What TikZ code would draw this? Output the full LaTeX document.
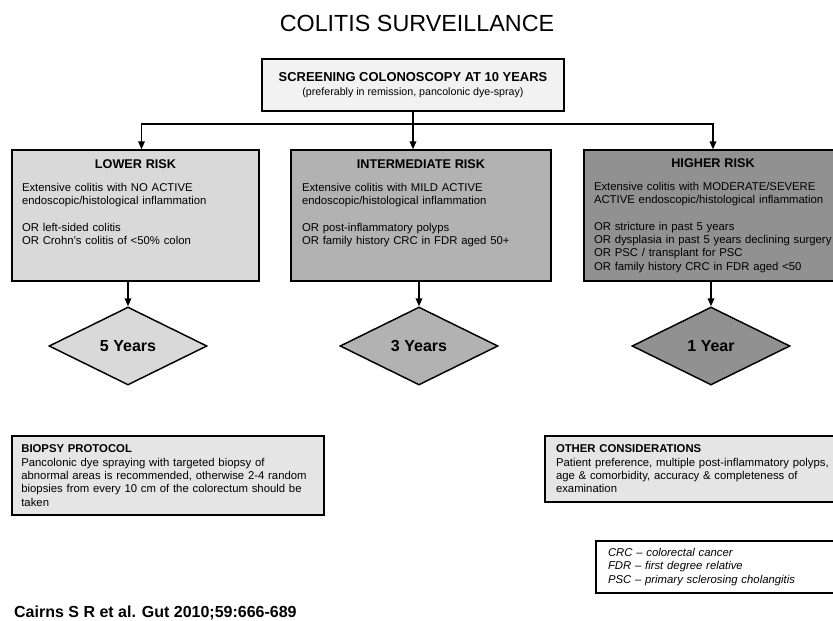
\documentclass[tikz,border=0pt]{standalone}
\usepackage{fontspec}
\setmainfont{Liberation Sans}
\usepackage{tikz}
\usetikzlibrary{arrows.meta,shapes.geometric}

\definecolor{topgray}{gray}{0.95}
\definecolor{lowgray}{gray}{0.85}
\definecolor{midgray}{gray}{0.70}
\definecolor{highgray}{gray}{0.57}
\definecolor{notegray}{gray}{0.90}

\begin{document}
\begin{tikzpicture}[x=0.75pt,y=-0.75pt,>={Triangle[length=6pt,width=5pt]},line width=1.1pt,
      risk node/.style={rectangle,draw,align=left,inner xsep=7.5pt,inner ysep=0pt,
        minimum height=98.25pt,font=\fontsize{8.5}{10}\selectfont},
      year node/.style={diamond,draw,inner sep=0pt,minimum width=118.5pt,
        minimum height=58.5pt,font=\fontsize{12}{14}\selectfont\bfseries},
      note node/.style={rectangle,draw,align=left,inner xsep=7.5pt,inner ysep=0pt,
        font=\fontsize{8.5}{10}\selectfont}]

    \path[use as bounding box] (0,0) rectangle (833,621);
    \clip (0,0) rectangle (833,621);

    \node (title) at (417,23) {\fontsize{17.5}{20}\selectfont COLITIS SURVEILLANCE};

    \node[draw,fill=topgray,align=center,minimum width=226.5pt,minimum height=39pt] (screen) at (413,85)
      {\fontsize{9.7}{11}\selectfont\bfseries SCREENING COLONOSCOPY AT 10 YEARS\\[-1.5pt]
       \fontsize{8}{10}\selectfont (preferably in remission, pancolonic dye-spray)};

    \node[risk node,fill=lowgray,text width=170.25pt] (low) at (135.5,215.5)
      {\makebox[\linewidth]{\bfseries\fontsize{9.5}{10}\selectfont LOWER RISK}\\[7.25pt]
       Extensive colitis with NO ACTIVE\\
       endoscopic/histological inflammation\\[10pt]
       OR left-sided colitis\\
       OR Crohn's colitis of <50\% colon\\
       \mbox{}\\
       \mbox{}};
    \node[risk node,fill=midgray,text width=178.5pt,inner xsep=8.25pt] (mid) at (421,215.5)
      {\makebox[\linewidth]{\bfseries\fontsize{9.5}{10}\selectfont INTERMEDIATE RISK}\\[7.25pt]
       Extensive colitis with MILD ACTIVE\\
       endoscopic/histological inflammation\\[10pt]
       OR post-inflammatory polyps\\
       OR family history CRC in FDR aged 50+\\
       \mbox{}\\
       \mbox{}};
    \node[risk node,fill=highgray,text width=178.5pt] (high) at (713,215.5)
      {\makebox[\linewidth]{\bfseries\fontsize{9.5}{10}\selectfont HIGHER RISK}\\[7.25pt]
       Extensive colitis with MODERATE/SEVERE\\
       ACTIVE endoscopic/histological inflammation\\[10pt]
       OR stricture in past 5 years\\
       OR dysplasia in past 5 years declining surgery\\
       OR PSC / transplant for PSC\\
       OR family history CRC in FDR aged <50};

    \node[year node,fill=lowgray] (five) at (128,346) {5 Years};
    \node[year node,fill=midgray] (three) at (419,346) {3 Years};
    \node[year node,fill=highgray] (one) at (711,346) {1 Year};

    \coordinate (split) at (413,124);
    \draw (screen) -- (split);
    \draw[->] (split) -- (split |- mid.north);
    \draw[->] (split) -| ([xshift=4.5pt]low.north);
    \draw[->] (split) -| (high.north);

    \draw[->] (low.south -| five) -- (five);
    \draw[->] (mid.south -| three) -- (three);
    \draw[->] (high.south -| one) -- (one);

    \node[note node,fill=notegray,text width=220pt,inner xsep=7pt,minimum height=59.25pt] (biopsy) at (168,475.5)
      {\textbf{BIOPSY PROTOCOL}\\
       Pancolonic dye spraying with targeted biopsy of\\
       abnormal areas is recommended, otherwise 2-4 random\\
       biopsies from every 10 cm of the colorectum should be\\
       taken};
    \node[note node,fill=notegray,text width=216pt,inner xsep=8.25pt,minimum height=49.5pt] (other) at (700,469)
      {\textbf{OTHER CONSIDERATIONS}\\
       Patient preference, multiple post-inflammatory polyps,\\
       age \& comorbidity, accuracy \& completeness of\\
       examination};
    \node[note node,fill=white,text width=169.5pt,inner xsep=9pt,minimum height=39pt,
      font=\fontsize{8.5}{10}\selectfont\itshape] (legend) at (721,567)
      {CRC -- colorectal cancer\\
       FDR -- first degree relative\\
       PSC -- primary sclerosing cholangitis};

    \node[anchor=west,font=\fontsize{12}{14}\selectfont\bfseries] (cite) at (9,613)
      {Cairns S R et al. Gut 2010;59:666-689};
\end{tikzpicture}
\end{document}
